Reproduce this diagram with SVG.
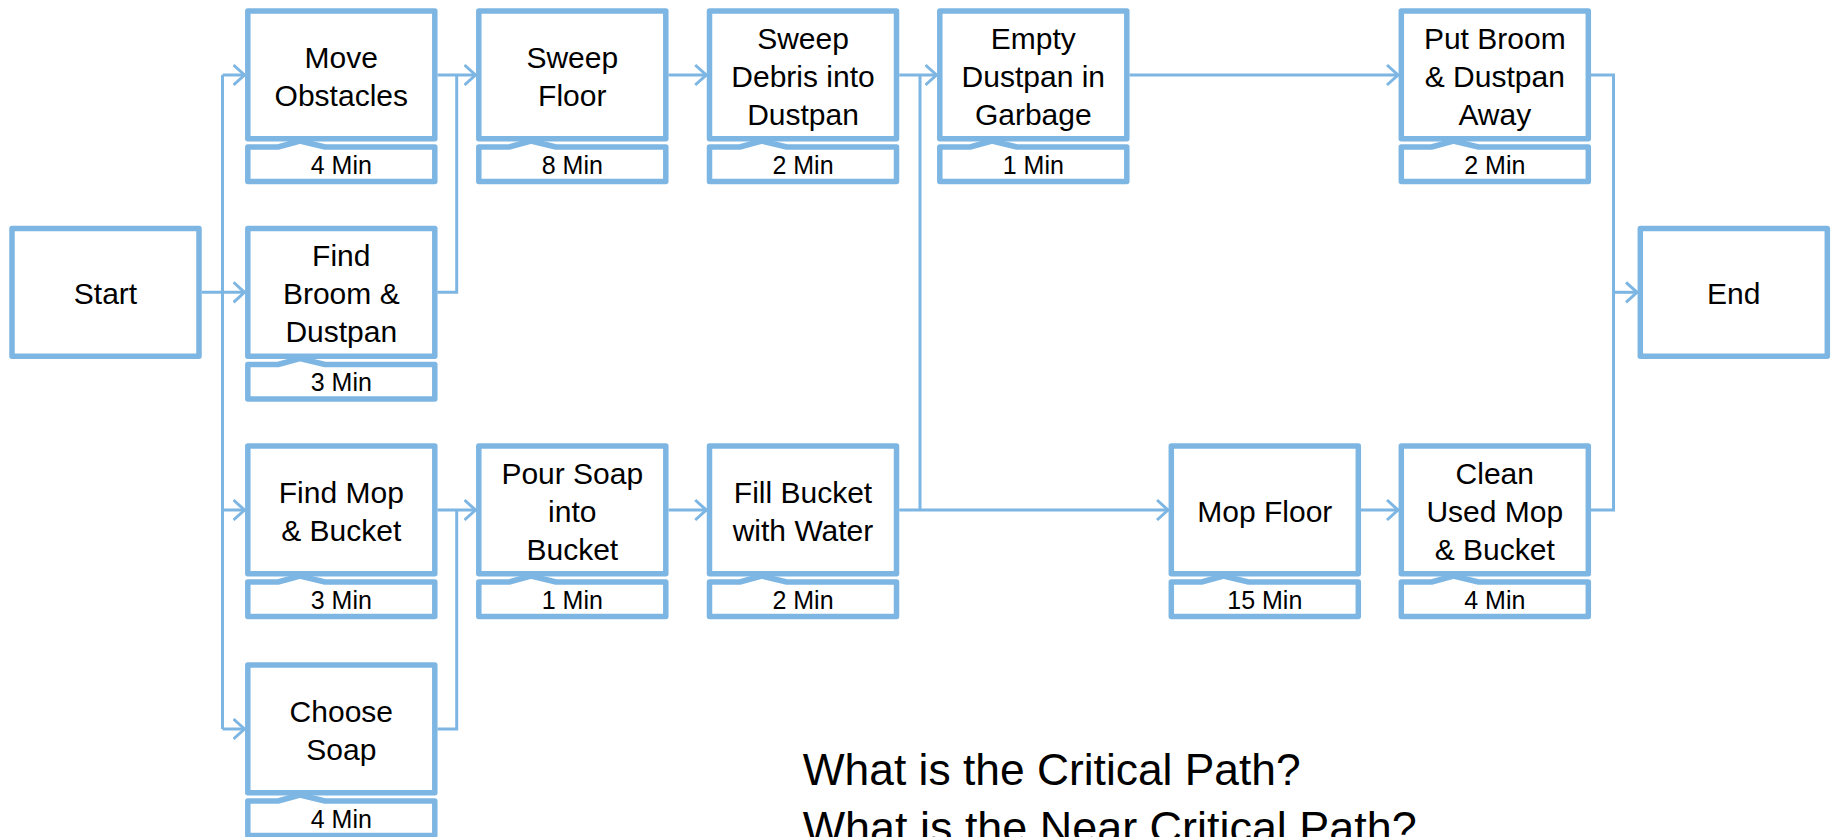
<svg xmlns="http://www.w3.org/2000/svg" width="1831" height="837" viewBox="0 0 1831 837">
  <style>
    .box { fill: #ffffff; stroke: #7eb6e3; stroke-width: 5.5; stroke-linejoin: round; }
    .tbox { fill: #ffffff; stroke: #7eb6e3; stroke-width: 5.5; stroke-linejoin: round; }
    .lbl { font-family: "Liberation Sans", Arial, sans-serif; font-size: 30px; fill: #000000; text-anchor: middle; }
    .tm { font-family: "Liberation Sans", Arial, sans-serif; font-size: 25px; fill: #000000; text-anchor: middle; }
    .q { font-family: "Liberation Sans", Arial, sans-serif; font-size: 44px; fill: #000000; }
    .wire { fill: none; stroke: #7eb6e3; stroke-width: 3; }
  </style>
  <defs>
    <marker id="arrow" viewBox="0 0 14 24" refX="12.5" refY="12" markerWidth="14" markerHeight="24" markerUnits="userSpaceOnUse" orient="auto">
      <path d="M1,2 L12,12 L1,22" fill="none" stroke="#7eb6e3" stroke-width="3"/>
    </marker>
  </defs>

  <rect width="1831" height="837" fill="#ffffff"/>

  <!-- connectors -->
  <g id="connectors" class="wire">
    <path d="M201.8,292.3 H245" marker-end="url(#arrow)"/>
    <path d="M222.5,75 V729"/>
    <path d="M222.5,75 H245" marker-end="url(#arrow)"/>
    <path d="M222.5,510 H245" marker-end="url(#arrow)"/>
    <path d="M222.5,729 H245" marker-end="url(#arrow)"/>

    <path d="M437.5,75 H476" marker-end="url(#arrow)"/>
    <path d="M437.5,292.3 H456.7 V75"/>
    <path d="M668.5,75 H706.7" marker-end="url(#arrow)"/>
    <path d="M899.2,75 H937" marker-end="url(#arrow)"/>
    <path d="M920,75 V510"/>
    <path d="M1129.5,75 H1398.5" marker-end="url(#arrow)"/>

    <path d="M437.5,510 H476" marker-end="url(#arrow)"/>
    <path d="M437.5,729 H456.7 V510"/>
    <path d="M668.5,510 H706.7" marker-end="url(#arrow)"/>
    <path d="M899.2,510 H1168.5" marker-end="url(#arrow)"/>
    <path d="M1361,510 H1398.5" marker-end="url(#arrow)"/>

    <path d="M1591,75 H1613.5 V510 H1591"/>
    <path d="M1613.5,292.3 H1637.5" marker-end="url(#arrow)"/>
  </g>

  <!-- start / end -->
  <g id="start">
    <rect class="box" x="12" y="228.5" width="187" height="127.8"/>
    <text class="lbl" x="105.5" y="303.8">Start</text>
  </g>
  <g id="end">
    <rect class="box" x="1640.3" y="228.5" width="187" height="127.8"/>
    <text class="lbl" x="1733.8" y="303.8">End</text>
  </g>

  <!-- column 1 -->
  <g id="move-obstacles">
    <rect class="box" x="247.8" y="11" width="187" height="127.8"/>
    <text class="lbl" x="341.3" y="67.5">Move</text>
    <text class="lbl" x="341.3" y="105.5">Obstacles</text>
    <path class="tbox" d="M247.8,147 H278 L300,141 L325,147 H434.8 V181.5 H247.8 Z"/>
    <text class="tm" x="341.3" y="173.5">4 Min</text>
  </g>
  <g id="find-broom">
    <rect class="box" x="247.8" y="228.5" width="187" height="127.8"/>
    <text class="lbl" x="341.3" y="265.8">Find</text>
    <text class="lbl" x="341.3" y="303.8">Broom &amp;</text>
    <text class="lbl" x="341.3" y="341.8">Dustpan</text>
    <path class="tbox" d="M247.8,364.5 H278 L300,358.5 L325,364.5 H434.8 V399 H247.8 Z"/>
    <text class="tm" x="341.3" y="391">3 Min</text>
  </g>
  <g id="find-mop">
    <rect class="box" x="247.8" y="446" width="187" height="127.8"/>
    <text class="lbl" x="341.3" y="502.5">Find Mop</text>
    <text class="lbl" x="341.3" y="540.5">&amp; Bucket</text>
    <path class="tbox" d="M247.8,582 H278 L300,576 L325,582 H434.8 V616.5 H247.8 Z"/>
    <text class="tm" x="341.3" y="608.5">3 Min</text>
  </g>
  <g id="choose-soap">
    <rect class="box" x="247.8" y="665" width="187" height="127.8"/>
    <text class="lbl" x="341.3" y="721.5">Choose</text>
    <text class="lbl" x="341.3" y="759.5">Soap</text>
    <path class="tbox" d="M247.8,801 H278 L300,795 L325,801 H434.8 V835.5 H247.8 Z"/>
    <text class="tm" x="341.3" y="827.5">4 Min</text>
  </g>

  <!-- column 2 -->
  <g id="sweep-floor">
    <rect class="box" x="478.8" y="11" width="187" height="127.8"/>
    <text class="lbl" x="572.3" y="67.5">Sweep</text>
    <text class="lbl" x="572.3" y="105.5">Floor</text>
    <path class="tbox" d="M478.8,147 H509 L531,141 L556,147 H665.8 V181.5 H478.8 Z"/>
    <text class="tm" x="572.3" y="173.5">8 Min</text>
  </g>
  <g id="pour-soap">
    <rect class="box" x="478.8" y="446" width="187" height="127.8"/>
    <text class="lbl" x="572.3" y="483.5">Pour Soap</text>
    <text class="lbl" x="572.3" y="521.5">into</text>
    <text class="lbl" x="572.3" y="559.5">Bucket</text>
    <path class="tbox" d="M478.8,582 H509 L531,576 L556,582 H665.8 V616.5 H478.8 Z"/>
    <text class="tm" x="572.3" y="608.5">1 Min</text>
  </g>

  <!-- column 3 -->
  <g id="sweep-debris">
    <rect class="box" x="709.5" y="11" width="187" height="127.8"/>
    <text class="lbl" x="803" y="48.5">Sweep</text>
    <text class="lbl" x="803" y="86.5">Debris into</text>
    <text class="lbl" x="803" y="124.5">Dustpan</text>
    <path class="tbox" d="M709.5,147 H739.7 L761.7,141 L786.7,147 H896.5 V181.5 H709.5 Z"/>
    <text class="tm" x="803" y="173.5">2 Min</text>
  </g>
  <g id="fill-bucket">
    <rect class="box" x="709.5" y="446" width="187" height="127.8"/>
    <text class="lbl" x="803" y="502.5">Fill Bucket</text>
    <text class="lbl" x="803" y="540.5">with Water</text>
    <path class="tbox" d="M709.5,582 H739.7 L761.7,576 L786.7,582 H896.5 V616.5 H709.5 Z"/>
    <text class="tm" x="803" y="608.5">2 Min</text>
  </g>

  <!-- column 4 -->
  <g id="empty-dustpan">
    <rect class="box" x="939.8" y="11" width="187" height="127.8"/>
    <text class="lbl" x="1033.3" y="48.5">Empty</text>
    <text class="lbl" x="1033.3" y="86.5">Dustpan in</text>
    <text class="lbl" x="1033.3" y="124.5">Garbage</text>
    <path class="tbox" d="M939.8,147 H970 L992,141 L1017,147 H1126.8 V181.5 H939.8 Z"/>
    <text class="tm" x="1033.3" y="173.5">1 Min</text>
  </g>

  <!-- column 5 -->
  <g id="mop-floor">
    <rect class="box" x="1171.3" y="446" width="187" height="127.8"/>
    <text class="lbl" x="1264.8" y="521.5">Mop Floor</text>
    <path class="tbox" d="M1171.3,582 H1201.5 L1223.5,576 L1248.5,582 H1358.3 V616.5 H1171.3 Z"/>
    <text class="tm" x="1264.8" y="608.5">15 Min</text>
  </g>

  <!-- column 6 -->
  <g id="put-away">
    <rect class="box" x="1401.3" y="11" width="187" height="127.8"/>
    <text class="lbl" x="1494.8" y="48.5">Put Broom</text>
    <text class="lbl" x="1494.8" y="86.5">&amp; Dustpan</text>
    <text class="lbl" x="1494.8" y="124.5">Away</text>
    <path class="tbox" d="M1401.3,147 H1431.5 L1453.5,141 L1478.5,147 H1588.3 V181.5 H1401.3 Z"/>
    <text class="tm" x="1494.8" y="173.5">2 Min</text>
  </g>
  <g id="clean-mop">
    <rect class="box" x="1401.3" y="446" width="187" height="127.8"/>
    <text class="lbl" x="1494.8" y="483.5">Clean</text>
    <text class="lbl" x="1494.8" y="521.5">Used Mop</text>
    <text class="lbl" x="1494.8" y="559.5">&amp; Bucket</text>
    <path class="tbox" d="M1401.3,582 H1431.5 L1453.5,576 L1478.5,582 H1588.3 V616.5 H1401.3 Z"/>
    <text class="tm" x="1494.8" y="608.5">4 Min</text>
  </g>

  <!-- questions -->
  <g id="questions">
    <text class="q" x="802.7" y="785" textLength="498" lengthAdjust="spacingAndGlyphs">What is the Critical Path?</text>
    <text class="q" x="802.7" y="842.7" textLength="614" lengthAdjust="spacingAndGlyphs">What is the Near Critical Path?</text>
  </g>
</svg>
